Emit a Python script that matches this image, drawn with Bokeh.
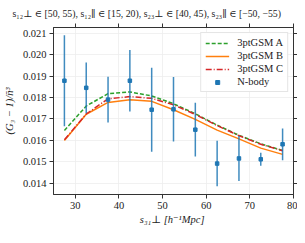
from bokeh.plotting import figure
from bokeh.models import Range1d, LinearAxis, FixedTicker, Legend, LegendItem, ColumnDataSource, PrintfTickFormatter, CustomJSTickFormatter
from bokeh.embed import file_html
from bokeh.resources import INLINE

# data
s31 = [27.5, 32.5, 37.5, 42.5, 47.5, 52.5, 57.5, 62.5, 67.5, 72.5, 77.5]
nbody = [0.01878, 0.01845, 0.01790, 0.01878, 0.01743, 0.01745, 0.01650, 0.01492, 0.01516, 0.01512, 0.01582]
nbody_err = [0.00212, 0.00118, 0.00107, 0.00143, 0.00196, 0.00150, 0.00125, 0.00106, 0.00105, 0.00030, 0.00074]
gsm_a = [0.01646, 0.01760, 0.01818, 0.01826, 0.01807, 0.01771, 0.01724, 0.01671, 0.01624, 0.01584, 0.01553]
gsm_b = [0.01600, 0.01722, 0.01777, 0.01789, 0.01782, 0.01743, 0.01698, 0.01648, 0.01607, 0.01564, 0.01535]
gsm_c = [0.01603, 0.01723, 0.01794, 0.01804, 0.01796, 0.01766, 0.01721, 0.01669, 0.01622, 0.01582, 0.01552]
x_ticks = [30, 40, 50, 60, 70, 80]
y_ticks = [0.014, 0.015, 0.016, 0.017, 0.018, 0.019, 0.020, 0.021]

FONT = "'Liberation Serif', 'DejaVu Serif', serif"
FS = "10.5px"

p = figure(width=297, height=227, output_backend="svg", toolbar_location=None,
           x_range=Range1d(25, 80), y_range=Range1d(0.01348, 0.02126),
           min_border_left=4, min_border_right=4, min_border_top=4, min_border_bottom=4)

p.title.text = "s\u2081\u2082\u22a5 \u2208 [50, 55), s\u2081\u2082\u2225 \u2208 [15, 20), s\u2082\u2083\u22a5 \u2208 [40, 45), s\u2082\u2083\u2225 \u2208 [\u221250, \u221255)"
p.title.text_font = FONT
p.title.text_font_size = "9.8px"
p.title.text_font_style = "normal"
p.title.align = "left"
p.title.offset = -41
p.title.text_color = "#222222"

p.background_fill_color = "white"
p.border_fill_color = "white"
p.outline_line_color = "#333333"
p.outline_line_width = 1

for ax in [p.xaxis[0], p.yaxis[0]]:
    ax.major_label_text_font = FONT
    ax.major_label_text_font_size = FS
    ax.major_label_text_color = "#222222"
    ax.axis_label_text_font = FONT
    ax.axis_label_text_font_size = FS
    ax.axis_label_text_font_style = "italic"
    ax.axis_label_text_color = "#222222"
    ax.minor_tick_line_color = None
    ax.major_tick_out = 4
    ax.major_tick_in = 0
    ax.axis_line_color = "#333333"
    ax.major_tick_line_color = "#333333"

p.xaxis[0].ticker = FixedTicker(ticks=x_ticks)
p.yaxis[0].ticker = FixedTicker(ticks=y_ticks)
p.yaxis[0].formatter = PrintfTickFormatter(format="%.3f")
p.xaxis[0].axis_label = "s\u2083\u2081\u22a5  [h\u207b\u00b9Mpc]"
p.yaxis[0].axis_label = "(G\u2083 \u2212 1)/n\u0304\u00b3"
p.xaxis[0].axis_label_standoff = 2
p.yaxis[0].axis_label_standoff = 5
p.xaxis[0].major_label_standoff = 3
p.yaxis[0].major_label_standoff = 3

blank = CustomJSTickFormatter(code="return ''")
top = LinearAxis(ticker=FixedTicker(ticks=x_ticks), formatter=blank,
                 major_tick_out=4, major_tick_in=0, minor_tick_line_color=None,
                 axis_line_color="#333333", major_tick_line_color="#333333", major_label_standoff=0)
right = LinearAxis(ticker=FixedTicker(ticks=y_ticks), formatter=blank,
                   major_tick_out=4, major_tick_in=0, minor_tick_line_color=None,
                   axis_line_color="#333333", major_tick_line_color="#333333", major_label_standoff=0)
p.add_layout(top, "above")
p.add_layout(right, "right")

p.xgrid.ticker = FixedTicker(ticks=x_ticks)
p.ygrid.ticker = FixedTicker(ticks=y_ticks)
p.grid.grid_line_color = "#eeeeee"
p.grid.grid_line_width = 0.8

ra = p.line(s31, gsm_a, line_color="#2ca02c", line_width=1.5, line_dash="4 2")
rb = p.line(s31, gsm_b, line_color="#ff7f0e", line_width=1.5)
rc = p.line(s31, gsm_c, line_color="#d62728", line_width=1.5, line_dash="6 2 1 2")

upper = [v + e for v, e in zip(nbody, nbody_err)]
lower = [v - e for v, e in zip(nbody, nbody_err)]
src = ColumnDataSource(dict(x=s31, y=nbody, upper=upper, lower=lower))
rs = p.segment(x0="x", y0="lower", x1="x", y1="upper", source=src, line_color="#1f77b4", line_width=1.5, line_alpha=0.85)
rm = p.scatter(x="x", y="y", source=src, marker="square", size=3.5, fill_color="#1f77b4", line_color="#1f77b4")

legend = Legend(items=[
    LegendItem(label="3ptGSM A", renderers=[ra]),
    LegendItem(label="3ptGSM B", renderers=[rb]),
    LegendItem(label="3ptGSM C", renderers=[rc]),
    LegendItem(label="N-body", renderers=[rm]),
], location="top_right")
legend.label_text_font = FONT
legend.label_text_font_size = FS
legend.label_text_color = "#222222"
legend.border_line_color = "#cccccc"
legend.border_line_width = 1
legend.background_fill_alpha = 0.9
legend.glyph_width = 24
legend.glyph_height = 10
legend.label_height = 10
legend.spacing = 2
legend.padding = 4
legend.margin = 5
legend.label_standoff = 8
p.add_layout(legend)

open("out.html", "w").write(file_html(p, INLINE))
